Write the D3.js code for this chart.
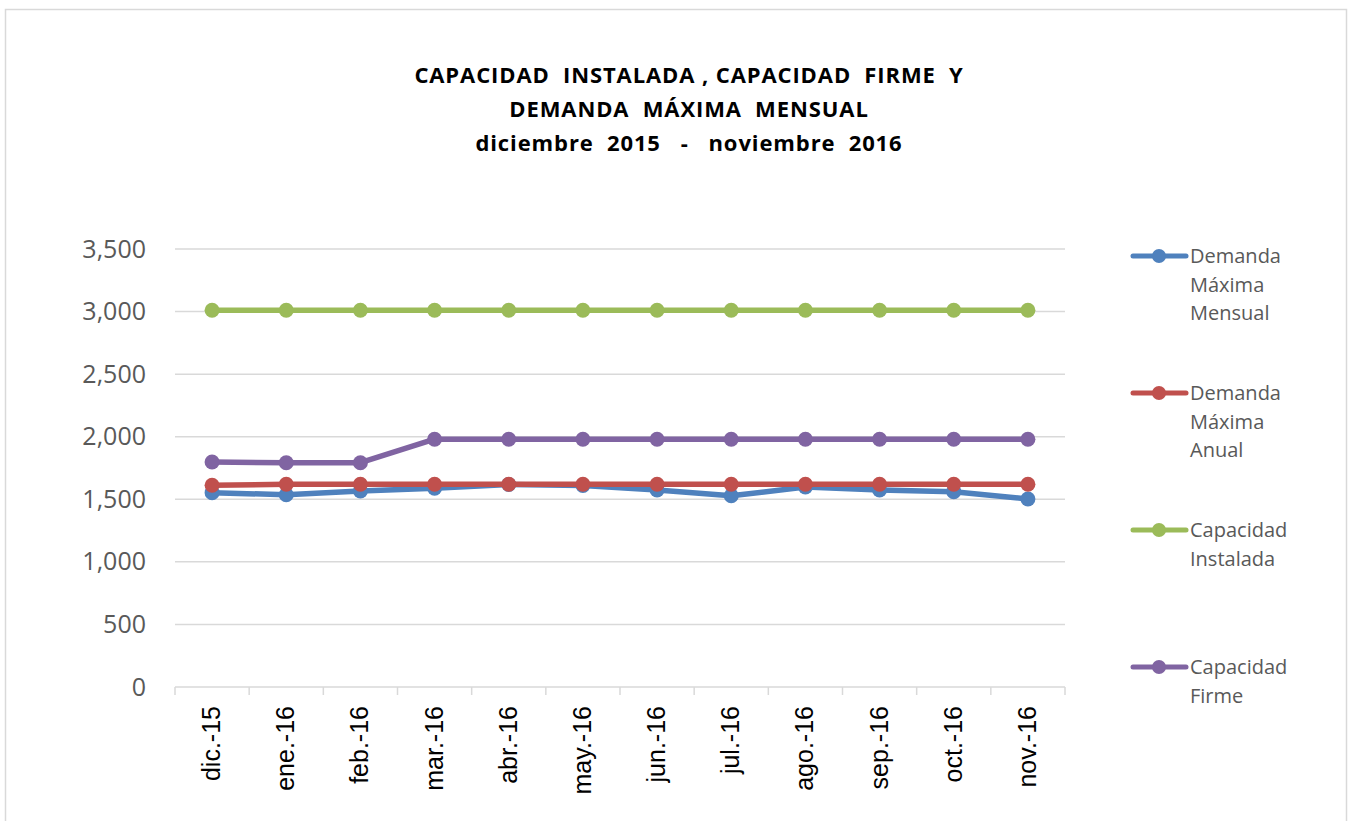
<!DOCTYPE html>
<html>
<head>
<meta charset="utf-8">
<script src="https://cdn.jsdelivr.net/npm/d3@7"></script>
<style>
  body { margin: 0; background: #fff; }
  svg { display: block; }
</style>
</head>
<body>
<div id="chart"></div>
<script>
var W = 1348, H = 821;
var margin = { top: 249, left: 175, right: 283, bottom: 134 };

var months = ["dic.-15", "ene.-16", "feb.-16", "mar.-16", "abr.-16", "may.-16",
              "jun.-16", "jul.-16", "ago.-16", "sep.-16", "oct.-16", "nov.-16"];
var demandaMensual = [1553, 1536, 1566, 1588, 1618, 1610, 1574, 1528, 1598, 1574, 1561, 1502];
var demandaAnual   = [1612, 1620, 1620, 1620, 1620, 1620, 1620, 1620, 1620, 1620, 1620, 1620];
var capInstalada   = [3010, 3010, 3010, 3010, 3010, 3010, 3010, 3010, 3010, 3010, 3010, 3010];
var capFirme       = [1798, 1792, 1792, 1980, 1980, 1980, 1980, 1980, 1980, 1980, 1980, 1980];
var yTicks = [0, 500, 1000, 1500, 2000, 2500, 3000, 3500];

var seriesNames = [["Demanda", "Máxima", "Mensual"], ["Demanda", "Máxima", "Anual"],
                   ["Capacidad", "Instalada"], ["Capacidad", "Firme"]];
var seriesColors = ["#4F81BD", "#C0504D", "#9BBB59", "#8064A2"];
var seriesData = [demandaMensual, demandaAnual, capInstalada, capFirme];

var titleLines = ["CAPACIDAD  INSTALADA , CAPACIDAD  FIRME  Y",
                  "DEMANDA  MÁXIMA  MENSUAL",
                  "diciembre  2015   -   noviembre  2016"];

var width = W - margin.left - margin.right;
var height = H - margin.top - margin.bottom;

var svg = d3.select("#chart").append("svg")
    .attr("width", W).attr("height", H);

// frame
svg.append("rect")
    .attr("x", 5.5).attr("y", 9.5)
    .attr("width", 1341).attr("height", 830)
    .attr("fill", "none").attr("stroke", "#d9d9d9").attr("stroke-width", 1.5);

// title
svg.append("g").selectAll("text").data(titleLines).enter().append("text")
    .attr("x", 689)
    .attr("y", (d, i) => 83 + i * 34)
    .attr("text-anchor", "middle")
    .style("white-space", "pre")
    .style("font-family", "'Open Sans', sans-serif")
    .style("font-weight", "bold")
    .style("font-size", "22px")
    .style("letter-spacing", "0.9px")
    .attr("fill", "#000")
    .text(d => d);

var g = svg.append("g")
    .attr("transform", "translate(" + margin.left + "," + margin.top + ")");

var x = d3.scaleBand().domain(months).range([0, width]);
var y = d3.scaleLinear().domain([0, 3500]).range([height, 0]);

// gridlines
g.append("g").selectAll("line").data(yTicks.filter(d => d > 0)).enter().append("line")
    .attr("x1", 0).attr("x2", width)
    .attr("y1", d => y(d)).attr("y2", d => y(d))
    .attr("stroke", "#d9d9d9").attr("stroke-width", 1.5);

// y axis labels
var yAxis = g.append("g")
    .call(d3.axisLeft(y).tickValues(yTicks).tickSize(0).tickPadding(29).tickFormat(d3.format(",")));
yAxis.select(".domain").remove();
yAxis.selectAll("text")
    .style("font-family", "'Open Sans', sans-serif")
    .style("font-size", "25px")
    .attr("fill", "#595959");

// x axis
var xAxis = g.append("g")
    .attr("transform", "translate(0," + height + ")");
xAxis.append("line")
    .attr("x1", 0).attr("x2", width)
    .attr("stroke", "#d9d9d9").attr("stroke-width", 1.5);
var bounds = months.map(m => x(m)).concat([width]);
xAxis.selectAll(".tk").data(bounds).enter().append("line")
    .attr("class", "tk")
    .attr("x1", d => d).attr("x2", d => d)
    .attr("y1", 0).attr("y2", 8)
    .attr("stroke", "#d9d9d9").attr("stroke-width", 1.5);
xAxis.selectAll(".lbl").data(months).enter().append("text")
    .attr("class", "lbl")
    .attr("transform", d => "translate(" + (x(d) + x.bandwidth() / 2 + 8) + ",19) rotate(-90)")
    .attr("text-anchor", "end")
    .style("font-family", "'Liberation Sans', Arial, sans-serif")
    .style("font-size", "25px")
    .attr("fill", "#000")
    .text(d => d);

// lines
var line = d3.line()
    .x((d, i) => x(months[i]) + x.bandwidth() / 2)
    .y(d => y(d));

seriesData.forEach(function (data, k) {
    g.append("path")
        .datum(data)
        .attr("d", line)
        .attr("fill", "none")
        .attr("stroke", seriesColors[k])
        .attr("stroke-width", 5.5)
        .attr("stroke-linejoin", "round")
        .attr("stroke-linecap", "round");
    g.append("g").selectAll("circle").data(data).enter().append("circle")
        .attr("cx", (d, i) => x(months[i]) + x.bandwidth() / 2)
        .attr("cy", d => y(d))
        .attr("r", 7.5)
        .attr("fill", seriesColors[k]);
});

// legend
var legendY = [256, 393, 530, 667];
var legend = svg.append("g");
seriesNames.forEach(function (name, k) {
    var lg = legend.append("g").attr("transform", "translate(1131," + legendY[k] + ")");
    lg.append("line")
        .attr("x1", 2).attr("x2", 55)
        .attr("stroke", seriesColors[k]).attr("stroke-width", 5)
        .attr("stroke-linecap", "round");
    lg.append("circle").attr("cx", 28).attr("r", 7).attr("fill", seriesColors[k]);
    lg.selectAll("text").data(name).enter().append("text")
        .attr("x", 59)
        .attr("y", (d, i) => 7 + i * 28.5)
        .style("font-family", "'Open Sans', sans-serif")
        .style("font-size", "20px")
        .attr("fill", "#595959")
        .text(d => d);
});
</script>
</body>
</html>
